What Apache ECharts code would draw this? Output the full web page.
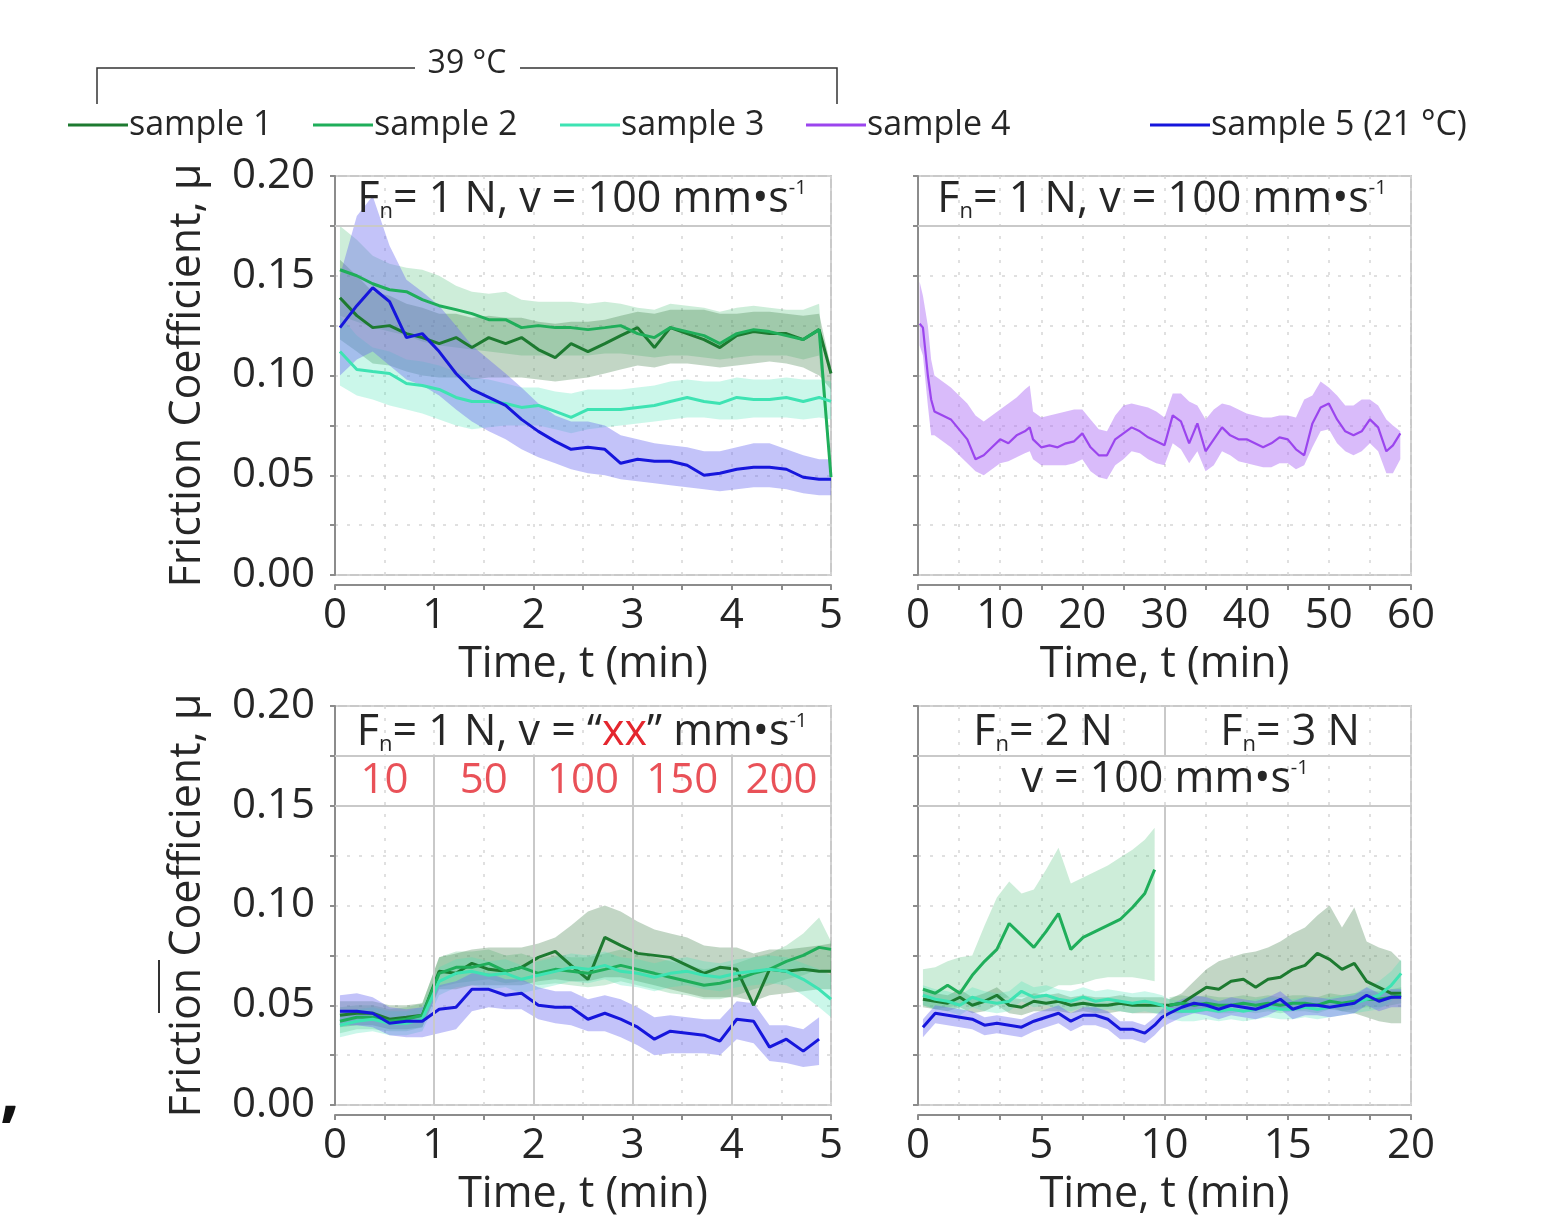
<!DOCTYPE html>
<html><head><meta charset="utf-8">
<script src="https://cdn.jsdelivr.net/npm/echarts@6/dist/echarts.min.js"></script>
<style>html,body{margin:0;padding:0;background:#fff}#c{width:1548px;height:1219px}</style>
</head><body><div id="c"></div>
<script>
// ---------- DATA ----------
const sampleNames = ['sample 1', 'sample 2', 'sample 3', 'sample 4', 'sample 5 (21 \u00b0C)'];

// Top-left: Fn = 1 N, v = 100 mm/s, 0-5 min
const tlTime = [0.05,0.22,0.38,0.55,0.72,0.88,1.05,1.22,1.38,1.55,1.72,1.88,2.05,2.22,2.38,2.55,2.72,2.88,3.05,3.22,3.38,3.55,3.72,3.88,4.05,4.22,4.38,4.55,4.72,4.88,5.0];
const tlS1   = [0.139,0.130,0.124,0.125,0.121,0.119,0.116,0.119,0.114,0.119,0.116,0.119,0.113,0.109,0.116,0.112,0.116,0.120,0.124,0.114,0.124,0.121,0.118,0.114,0.120,0.122,0.121,0.121,0.118,0.123,0.101];
const tlS1Lo = [0.118,0.112,0.106,0.105,0.102,0.100,0.099,0.099,0.098,0.099,0.099,0.099,0.098,0.097,0.098,0.099,0.101,0.103,0.105,0.104,0.106,0.106,0.105,0.104,0.105,0.106,0.107,0.106,0.104,0.100,0.093];
const tlS1Hi = [0.158,0.150,0.142,0.140,0.136,0.134,0.131,0.131,0.129,0.130,0.129,0.129,0.127,0.126,0.127,0.127,0.128,0.130,0.132,0.131,0.133,0.133,0.133,0.131,0.131,0.132,0.132,0.131,0.130,0.131,0.104];
const tlS2   = [0.153,0.150,0.146,0.143,0.142,0.138,0.135,0.133,0.131,0.128,0.128,0.124,0.125,0.124,0.124,0.123,0.124,0.125,0.121,0.119,0.124,0.122,0.120,0.116,0.121,0.123,0.122,0.120,0.118,0.123,0.049];
const tlS2Lo = [0.130,0.127,0.124,0.122,0.120,0.117,0.115,0.114,0.113,0.112,0.111,0.110,0.110,0.110,0.110,0.110,0.111,0.111,0.110,0.109,0.110,0.110,0.109,0.108,0.109,0.110,0.110,0.110,0.108,0.110,0.045];
const tlS2Hi = [0.175,0.168,0.160,0.156,0.154,0.153,0.150,0.145,0.142,0.141,0.142,0.138,0.137,0.137,0.137,0.136,0.137,0.136,0.134,0.133,0.136,0.135,0.134,0.132,0.134,0.135,0.134,0.133,0.133,0.136,0.053];
const tlS3   = [0.112,0.103,0.102,0.101,0.096,0.095,0.093,0.089,0.087,0.087,0.086,0.084,0.085,0.082,0.079,0.083,0.083,0.083,0.084,0.085,0.087,0.089,0.087,0.086,0.089,0.088,0.088,0.089,0.087,0.089,0.087];
const tlS3Lo = [0.095,0.090,0.088,0.085,0.083,0.081,0.078,0.075,0.073,0.074,0.075,0.075,0.075,0.073,0.071,0.073,0.074,0.075,0.076,0.077,0.078,0.079,0.079,0.078,0.078,0.079,0.079,0.079,0.078,0.079,0.078];
const tlS3Hi = [0.130,0.120,0.114,0.112,0.108,0.107,0.105,0.102,0.099,0.098,0.096,0.094,0.094,0.092,0.091,0.093,0.093,0.093,0.094,0.095,0.097,0.098,0.097,0.097,0.099,0.098,0.098,0.099,0.098,0.098,0.097];
const tlS5   = [0.124,0.135,0.144,0.137,0.119,0.121,0.112,0.101,0.093,0.089,0.085,0.078,0.072,0.067,0.063,0.064,0.063,0.056,0.058,0.057,0.057,0.055,0.050,0.051,0.053,0.054,0.054,0.053,0.049,0.048,0.048];
const tlS5Lo = [0.100,0.108,0.112,0.105,0.098,0.095,0.090,0.083,0.077,0.072,0.068,0.063,0.059,0.056,0.053,0.051,0.050,0.048,0.047,0.046,0.045,0.044,0.043,0.042,0.043,0.044,0.044,0.043,0.041,0.040,0.040];
const tlS5Hi = [0.150,0.180,0.190,0.165,0.148,0.142,0.135,0.125,0.115,0.108,0.101,0.094,0.086,0.080,0.077,0.077,0.075,0.070,0.068,0.066,0.065,0.064,0.062,0.062,0.064,0.066,0.066,0.063,0.060,0.058,0.058];

// Top-right: sample 4, 0-60 min
const trTime = [0.2,0.6,1.2,1.6,2,3,4,5,6,7,8,9,10,11,12,13,13.6,14,15,16,17,18,19,20,21,22,23,24,25,26,27,28,29,30,31,32,33,34,35,36,37,38,39,40,41,42,43,44,45,46,47,48,49,50,51,52,53,54,55,56,57,57.8,58.7];
const trS4   = [0.126,0.124,0.100,0.088,0.082,0.080,0.078,0.073,0.068,0.058,0.060,0.064,0.068,0.066,0.070,0.072,0.074,0.068,0.064,0.065,0.064,0.066,0.067,0.071,0.064,0.060,0.060,0.068,0.071,0.074,0.072,0.069,0.067,0.065,0.080,0.077,0.066,0.076,0.062,0.068,0.074,0.070,0.068,0.068,0.066,0.064,0.066,0.069,0.068,0.063,0.060,0.076,0.084,0.086,0.078,0.072,0.070,0.072,0.078,0.074,0.062,0.065,0.071];
const trS4Lo = [0.115,0.110,0.085,0.070,0.070,0.067,0.064,0.060,0.056,0.052,0.050,0.053,0.056,0.057,0.059,0.061,0.062,0.058,0.055,0.055,0.055,0.055,0.056,0.058,0.052,0.049,0.048,0.055,0.058,0.062,0.061,0.058,0.056,0.055,0.066,0.063,0.056,0.062,0.052,0.055,0.062,0.060,0.057,0.056,0.055,0.054,0.054,0.056,0.056,0.053,0.055,0.064,0.072,0.073,0.066,0.062,0.060,0.062,0.066,0.062,0.051,0.051,0.058];
const trS4Hi = [0.147,0.140,0.125,0.108,0.100,0.097,0.094,0.090,0.086,0.080,0.077,0.080,0.083,0.086,0.089,0.093,0.095,0.082,0.079,0.080,0.081,0.082,0.083,0.083,0.078,0.073,0.072,0.080,0.085,0.086,0.085,0.084,0.082,0.079,0.091,0.091,0.087,0.085,0.078,0.083,0.086,0.085,0.083,0.081,0.080,0.079,0.079,0.080,0.080,0.079,0.088,0.090,0.097,0.094,0.090,0.085,0.085,0.088,0.088,0.085,0.078,0.075,0.072];

// Bottom-left: Fn = 1 N, speed steps, 0-5 min
const blTime = [0.05,0.22,0.38,0.55,0.72,0.88,1.05,1.22,1.38,1.55,1.72,1.88,2.05,2.22,2.38,2.55,2.72,2.88,3.05,3.22,3.38,3.55,3.72,3.88,4.05,4.22,4.38,4.55,4.72,4.88,5.0];
const speeds = ['10', '50', '100', '150', '200'];
const speedStepEdges = [0, 1, 2, 3, 4, 5];
const blS1   = [0.045,0.046,0.046,0.043,0.044,0.045,0.067,0.066,0.071,0.068,0.067,0.069,0.074,0.077,0.070,0.063,0.084,0.080,0.076,0.075,0.074,0.070,0.066,0.069,0.068,0.050,0.068,0.067,0.068,0.067,0.067];
const blS1Lo = [0.039,0.040,0.040,0.038,0.038,0.039,0.058,0.058,0.060,0.060,0.060,0.060,0.062,0.063,0.062,0.062,0.064,0.064,0.062,0.060,0.058,0.056,0.054,0.054,0.054,0.052,0.055,0.056,0.057,0.058,0.058];
const blS1Hi = [0.052,0.052,0.052,0.050,0.050,0.051,0.074,0.076,0.078,0.079,0.079,0.079,0.081,0.084,0.090,0.097,0.100,0.097,0.092,0.088,0.086,0.084,0.080,0.079,0.079,0.076,0.078,0.078,0.079,0.080,0.081];
const blS2   = [0.042,0.044,0.044,0.042,0.043,0.045,0.066,0.069,0.069,0.071,0.067,0.069,0.066,0.068,0.067,0.066,0.068,0.070,0.068,0.066,0.064,0.062,0.060,0.061,0.063,0.066,0.068,0.072,0.075,0.079,0.078];
const blS2Lo = [0.036,0.038,0.038,0.037,0.037,0.039,0.059,0.061,0.062,0.063,0.061,0.062,0.060,0.061,0.060,0.059,0.060,0.062,0.060,0.058,0.056,0.055,0.053,0.053,0.055,0.058,0.060,0.063,0.065,0.068,0.066];
const blS2Hi = [0.049,0.050,0.050,0.048,0.049,0.051,0.074,0.077,0.077,0.078,0.075,0.076,0.073,0.075,0.074,0.074,0.076,0.078,0.076,0.074,0.072,0.070,0.068,0.069,0.071,0.074,0.076,0.080,0.086,0.094,0.082];
const blS3   = [0.040,0.042,0.043,0.041,0.041,0.043,0.062,0.066,0.067,0.065,0.066,0.063,0.065,0.067,0.069,0.068,0.070,0.067,0.066,0.064,0.066,0.067,0.065,0.064,0.066,0.067,0.068,0.067,0.063,0.058,0.053];
const blS3Lo = [0.034,0.036,0.037,0.035,0.035,0.037,0.055,0.059,0.060,0.058,0.059,0.056,0.058,0.060,0.062,0.061,0.063,0.060,0.059,0.057,0.059,0.060,0.058,0.057,0.059,0.060,0.061,0.060,0.055,0.049,0.044];
const blS3Hi = [0.046,0.048,0.049,0.047,0.047,0.049,0.069,0.073,0.074,0.072,0.073,0.070,0.072,0.074,0.076,0.075,0.077,0.074,0.073,0.071,0.073,0.074,0.072,0.071,0.073,0.074,0.075,0.074,0.071,0.068,0.065];
const blS5   = [0.047,0.047,0.046,0.041,0.042,0.042,0.048,0.049,0.058,0.058,0.055,0.056,0.050,0.049,0.049,0.043,0.046,0.043,0.039,0.033,0.037,0.036,0.035,0.032,0.043,0.042,0.029,0.033,0.027,0.033,null];
const blS5Lo = [0.040,0.040,0.039,0.035,0.034,0.034,0.036,0.038,0.047,0.049,0.048,0.048,0.043,0.041,0.040,0.037,0.037,0.034,0.030,0.025,0.026,0.026,0.026,0.025,0.033,0.031,0.022,0.021,0.019,0.020,null];
const blS5Hi = [0.055,0.056,0.054,0.049,0.048,0.049,0.060,0.062,0.066,0.066,0.063,0.063,0.059,0.057,0.057,0.053,0.055,0.053,0.049,0.044,0.045,0.044,0.043,0.043,0.052,0.051,0.040,0.040,0.038,0.044,null];

// Bottom-right: Fn = 2 N (0-10 min), Fn = 3 N (10-20 min)
const brTime = [0.2,0.7,1.2,1.7,2.2,2.7,3.2,3.7,4.2,4.7,5.2,5.7,6.2,6.7,7.2,7.7,8.2,8.7,9.2,9.6,9.9,10.2,10.7,11.2,11.7,12.2,12.7,13.2,13.7,14.2,14.7,15.2,15.7,16.2,16.7,17.2,17.7,18.2,18.7,19.2,19.6];
const brS1   = [0.053,0.052,0.051,0.054,0.050,0.052,0.055,0.050,0.049,0.052,0.051,0.052,0.050,0.051,0.050,0.050,0.051,0.050,0.050,0.050,0.050,0.050,0.051,0.055,0.059,0.058,0.062,0.063,0.059,0.063,0.064,0.068,0.070,0.076,0.073,0.068,0.071,0.062,0.059,0.056,0.056];
const brS1Lo = [0.049,0.048,0.047,0.049,0.046,0.047,0.050,0.046,0.045,0.047,0.047,0.047,0.046,0.047,0.046,0.046,0.047,0.046,0.046,0.046,0.046,0.046,0.046,0.047,0.048,0.048,0.049,0.049,0.048,0.048,0.048,0.049,0.049,0.050,0.049,0.047,0.046,0.044,0.042,0.041,0.041];
const brS1Hi = [0.057,0.056,0.055,0.058,0.054,0.056,0.059,0.054,0.053,0.056,0.055,0.056,0.054,0.055,0.054,0.054,0.055,0.054,0.054,0.054,0.054,0.053,0.056,0.062,0.068,0.072,0.074,0.076,0.077,0.079,0.082,0.086,0.089,0.095,0.100,0.089,0.099,0.082,0.079,0.077,0.072];
const brS2   = [0.058,0.056,0.060,0.056,0.065,0.072,0.078,0.091,0.085,0.079,0.087,0.096,0.078,0.084,0.087,0.090,0.093,0.099,0.106,0.118,null,0.050,0.051,0.050,0.051,0.050,0.050,0.051,0.050,0.051,0.050,0.051,0.051,0.050,0.052,0.051,0.052,0.053,0.053,0.054,0.055];
const brS2Lo = [0.050,0.048,0.049,0.050,0.051,0.052,0.053,0.054,0.054,0.055,0.057,0.060,0.060,0.061,0.063,0.064,0.064,0.064,0.063,0.062,null,0.046,0.047,0.046,0.047,0.046,0.046,0.047,0.046,0.047,0.046,0.047,0.047,0.046,0.048,0.047,0.048,0.049,0.049,0.050,0.051];
const brS2Hi = [0.068,0.069,0.072,0.074,0.075,0.090,0.104,0.112,0.106,0.108,0.118,0.129,0.111,0.114,0.117,0.120,0.124,0.128,0.133,0.139,null,0.054,0.055,0.054,0.055,0.054,0.054,0.055,0.054,0.055,0.054,0.055,0.055,0.054,0.056,0.055,0.056,0.057,0.057,0.058,0.059];
const brS3   = [0.055,0.053,0.052,0.050,0.054,0.052,0.051,0.052,0.057,0.054,0.055,0.053,0.052,0.054,0.052,0.053,0.052,0.051,0.052,0.051,0.050,0.048,0.047,0.047,0.048,0.047,0.048,0.047,0.048,0.049,0.048,0.048,0.049,0.048,0.049,0.050,0.051,0.053,0.055,0.060,0.066];
const brS3Lo = [0.050,0.048,0.047,0.045,0.049,0.047,0.046,0.047,0.052,0.049,0.050,0.048,0.047,0.049,0.047,0.048,0.047,0.046,0.047,0.046,0.045,0.043,0.042,0.042,0.043,0.042,0.043,0.042,0.043,0.044,0.043,0.043,0.044,0.043,0.044,0.045,0.046,0.047,0.048,0.052,0.057];
const brS3Hi = [0.060,0.058,0.057,0.055,0.059,0.057,0.056,0.057,0.062,0.059,0.060,0.058,0.057,0.059,0.057,0.058,0.057,0.056,0.057,0.056,0.055,0.053,0.052,0.052,0.053,0.052,0.053,0.052,0.053,0.054,0.053,0.053,0.054,0.053,0.054,0.055,0.056,0.059,0.062,0.067,0.073];
const brS5   = [0.039,0.046,0.045,0.044,0.043,0.040,0.041,0.040,0.039,0.042,0.044,0.046,0.042,0.045,0.045,0.043,0.038,0.038,0.036,0.040,0.044,0.046,0.049,0.051,0.050,0.048,0.050,0.049,0.048,0.050,0.053,0.048,0.050,0.050,0.049,0.050,0.051,0.055,0.052,0.054,0.054];
const brS5Lo = [0.034,0.041,0.040,0.039,0.038,0.035,0.036,0.035,0.034,0.037,0.039,0.041,0.037,0.040,0.040,0.038,0.033,0.033,0.031,0.035,0.039,0.041,0.044,0.046,0.045,0.043,0.045,0.044,0.043,0.045,0.048,0.043,0.045,0.045,0.044,0.045,0.046,0.050,0.047,0.049,0.049];
const brS5Hi = [0.043,0.050,0.049,0.048,0.047,0.044,0.045,0.044,0.043,0.046,0.048,0.050,0.046,0.049,0.049,0.047,0.042,0.042,0.040,0.044,0.048,0.050,0.053,0.055,0.054,0.052,0.054,0.053,0.052,0.054,0.057,0.052,0.054,0.054,0.053,0.054,0.055,0.059,0.056,0.058,0.058];

// ---------- STYLE ----------
const FONT = '"Open Sans", "Noto Sans", sans-serif';
const lineColors = ['#1d7a30', '#1fae5a', '#3ee3b3', '#9b45ee', '#1616dc'];
const bandColors = ['rgba(70,130,80,0.33)', 'rgba(60,185,110,0.26)', 'rgba(70,225,180,0.28)', 'rgba(170,105,245,0.45)', 'rgba(105,105,240,0.40)'];
const frameColor = '#c9c9c9';
const axisColor = '#8c8c8c';
const textColor = '#262626';

const chart = echarts.init(document.getElementById('c'), null, {renderer: 'canvas'});

const grids = [
  {left: 335, top: 176, width: 496, height: 399},
  {left: 918, top: 176, width: 493, height: 399},
  {left: 335, top: 706, width: 496, height: 399},
  {left: 918, top: 706, width: 493, height: 399}
].map(g => Object.assign(g, {show: true, borderColor: frameColor, borderWidth: 2, backgroundColor: '#fff', outerBoundsMode: 'none', containLabel: false}));

function near(v, step) { return Math.abs(v / step - Math.round(v / step)) < 1e-6; }

function xAxis(gi, max, interval, labelStep) {
  return {
    type: 'value', gridIndex: gi, min: 0, max: max, interval: interval,
    offset: 10,
    axisLine: {show: true, onZero: false, lineStyle: {color: axisColor, width: 2}},
    axisTick: {show: true, inside: false, length: 5, lineStyle: {color: axisColor, width: 2}},
    axisLabel: {fontSize: 42, fontFamily: FONT, color: textColor, margin: 10, hideOverlap: false,
      showMinLabel: true, showMaxLabel: true,
      formatter: v => near(v, labelStep) ? String(Math.round(v)) : ''},
    splitLine: {show: true, lineStyle: {color: '#d6d6d6', width: 1.5, type: [3, 9]}},
    name: 'Time, t (min)', nameLocation: 'middle', nameGap: 58,
    nameTextStyle: {fontSize: 43, fontFamily: FONT, color: textColor}
  };
}
function yAxis(gi, showLabels) {
  return {
    type: 'value', gridIndex: gi, min: 0, max: 0.2, interval: 0.025,
    offset: 8,
    axisLine: {show: true, lineStyle: {color: axisColor, width: 2}},
    axisTick: {show: true, inside: false, length: 5, lineStyle: {color: axisColor, width: 2}},
    axisLabel: {show: showLabels, fontSize: 42, fontFamily: FONT, color: textColor, margin: 12, hideOverlap: false,
      formatter: v => near(v, 0.05) ? v.toFixed(2) : ''},
    splitLine: {show: true, lineStyle: {color: '#d6d6d6', width: 1.5, type: [3, 9]}},
    name: showLabels ? 'Friction Coefficient, \u03bc' : '', nameLocation: 'middle', nameGap: 118,
    nameTextStyle: {fontSize: 43, fontFamily: FONT, color: textColor}
  };
}

const series = [];
function pairs(t, v) { return t.map((x, i) => [x, v[i] == null ? '-' : v[i]]); }

// Shaded band (lower..upper) drawn as polygons through the axis scales.
function addBand(gi, si, t, lo, hi) {
  series.push({
    type: 'custom', name: '_band' + gi + si, xAxisIndex: gi, yAxisIndex: gi, silent: true, z: 2,
    clip: true, data: [[t[0], lo[0]]],
    renderItem: function (params, api) {
      const segs = []; let cur = [];
      for (let i = 0; i < t.length; i++) {
        if (lo[i] == null || hi[i] == null) { if (cur.length) segs.push(cur); cur = []; }
        else cur.push(i);
      }
      if (cur.length) segs.push(cur);
      const children = segs.filter(s => s.length > 1).map(s => {
        const pts = s.map(i => api.coord([t[i], hi[i]]));
        for (let k = s.length - 1; k >= 0; k--) pts.push(api.coord([t[s[k]], lo[s[k]]]));
        return {type: 'polygon', shape: {points: pts}, style: {fill: bandColors[si], stroke: null}};
      });
      return {type: 'group', children: children};
    }
  });
}
function addLine(gi, si, t, v, extra) {
  const s = {
    type: 'line', name: sampleNames[si], xAxisIndex: gi, yAxisIndex: gi,
    data: pairs(t, v), symbol: 'none', z: 4, connectNulls: false,
    lineStyle: {color: lineColors[si], width: 3}, itemStyle: {color: lineColors[si]}
  };
  series.push(Object.assign(s, extra || {}));
}

const hdrLine = {color: frameColor, width: 2, type: 'solid'};
function mkLines(list) {
  return {silent: true, symbol: 'none', label: {show: false}, lineStyle: hdrLine, animation: false,
    data: list.map(l => [{coord: l[0]}, {coord: l[1]}])};
}

// Top-left
addBand(0, 1, tlTime, tlS2Lo, tlS2Hi);
addBand(0, 0, tlTime, tlS1Lo, tlS1Hi);
addBand(0, 2, tlTime, tlS3Lo, tlS3Hi);
addBand(0, 4, tlTime, tlS5Lo, tlS5Hi);
addLine(0, 0, tlTime, tlS1, {markLine: mkLines([[[0, 0.175], [5, 0.175]]])});
addLine(0, 1, tlTime, tlS2);
addLine(0, 2, tlTime, tlS3);
addLine(0, 4, tlTime, tlS5);

// Top-right
addBand(1, 3, trTime, trS4Lo, trS4Hi);
addLine(1, 3, trTime, trS4, {lineStyle: {color: lineColors[3], width: 2.2}, markLine: mkLines([[[0, 0.175], [60, 0.175]]])});

// Bottom-left
addBand(2, 1, blTime, blS2Lo, blS2Hi);
addBand(2, 0, blTime, blS1Lo, blS1Hi);
addBand(2, 2, blTime, blS3Lo, blS3Hi);
addBand(2, 4, blTime, blS5Lo, blS5Hi);
const blLines = [[[0, 0.175], [5, 0.175]], [[0, 0.15], [5, 0.15]]];
speedStepEdges.slice(1, -1).forEach(e => blLines.push([[e, 0], [e, 0.175]]));
addLine(2, 0, blTime, blS1, {markLine: mkLines(blLines)});
addLine(2, 1, blTime, blS2);
addLine(2, 2, blTime, blS3);
addLine(2, 4, blTime, blS5);
series.push({
  type: 'scatter', name: '_speeds', xAxisIndex: 2, yAxisIndex: 2, silent: true, symbolSize: 1,
  itemStyle: {color: 'transparent'}, z: 6,
  data: speeds.map((s, i) => [(speedStepEdges[i] + speedStepEdges[i + 1]) / 2, 0.1625, s]),
  label: {show: true, position: 'inside', formatter: p => p.value[2], fontSize: 42, fontFamily: FONT, color: '#e4262e'}
});

// Bottom-right
addBand(3, 1, brTime, brS2Lo, brS2Hi);
addBand(3, 0, brTime, brS1Lo, brS1Hi);
addBand(3, 2, brTime, brS3Lo, brS3Hi);
addBand(3, 4, brTime, brS5Lo, brS5Hi);
addLine(3, 0, brTime, brS1, {markLine: mkLines([
  [[0, 0.175], [20, 0.175]], [[0, 0.15], [20, 0.15]], [[10, 0], [10, 0.15]], [[10, 0.175], [10, 0.2]]
])});
addLine(3, 1, brTime, brS2);
addLine(3, 2, brTime, brS3);
addLine(3, 4, brTime, brS5);

// ---------- TEXT ----------
const rich = {
  m: {fontSize: 43, fontFamily: FONT, fill: textColor},
  r: {fontSize: 43, fontFamily: FONT, fill: '#e4262e'},
  sub: {fontSize: 22, fontFamily: FONT, fill: textColor, padding: [24, 0, 0, 0]},
  sup: {fontSize: 20, fontFamily: FONT, fill: textColor, padding: [0, 0, 24, 0]}
};
function hdr(x, y, text) {
  return {type: 'text', x: x, y: y, z: 20, silent: true,
    style: {text: text, rich: rich, align: 'center', verticalAlign: 'middle'}};
}
const legendLeft = [68, 313, 560, 806, 1150];

chart.setOption({
  animation: false,
  backgroundColor: '#ffffff',
  grid: grids,
  xAxis: [xAxis(0, 5, 0.5, 1), xAxis(1, 60, 5, 10), xAxis(2, 5, 0.5, 1), xAxis(3, 20, 20 / 12, 5)],
  yAxis: [yAxis(0, true), yAxis(1, false), yAxis(2, true), yAxis(3, false)],
  legend: sampleNames.map((n, i) => ({
    data: [n], left: legendLeft[i], top: 108, icon: 'rect', itemWidth: 60, itemHeight: 3,
    selectedMode: false, padding: 0,
    textStyle: {fontSize: 34, fontFamily: FONT, color: textColor, padding: [0, 0, 0, -4]}
  })),
  series: series,
  graphic: [
    {type: 'polyline', silent: true, shape: {points: [[97, 104], [97, 68], [415, 68]]}, style: {stroke: '#333', lineWidth: 1.5, fill: null}},
    {type: 'polyline', silent: true, shape: {points: [[520, 68], [837, 68], [837, 104]]}, style: {stroke: '#333', lineWidth: 1.5, fill: null}},
    {type: 'text', x: 467, y: 64, silent: true, style: {text: '39 \u00b0C', fontSize: 32, fontFamily: FONT, fill: textColor, align: 'center', verticalAlign: 'middle'}},
    hdr(582, 200, '{m|F}{sub|n}{m|= 1 N, v = 100 mm\u2022s}{sup|-1}'),
    hdr(1162, 200, '{m|F}{sub|n}{m|= 1 N, v = 100 mm\u2022s}{sup|-1}'),
    hdr(582, 733, '{m|F}{sub|n}{m|= 1 N, v = \u201c}{r|xx}{m|\u201d mm\u2022s}{sup|-1}'),
    hdr(1043, 733, '{m|F}{sub|n}{m|= 2 N}'),
    hdr(1290, 733, '{m|F}{sub|n}{m|= 3 N}'),
    hdr(1165, 780, '{m|v = 100 mm\u2022s}{sup|-1}'),
    {type: 'line', silent: true, shape: {x1: 159, y1: 960, x2: 159, y2: 1013}, style: {stroke: '#333', lineWidth: 2}},
    {type: 'text', x: 0, y: 1094, silent: true, style: {text: ',', fontSize: 70, fontWeight: 'bold', fontFamily: FONT, fill: '#111', align: 'left', verticalAlign: 'middle'}}
  ]
});
</script>
</body></html>
